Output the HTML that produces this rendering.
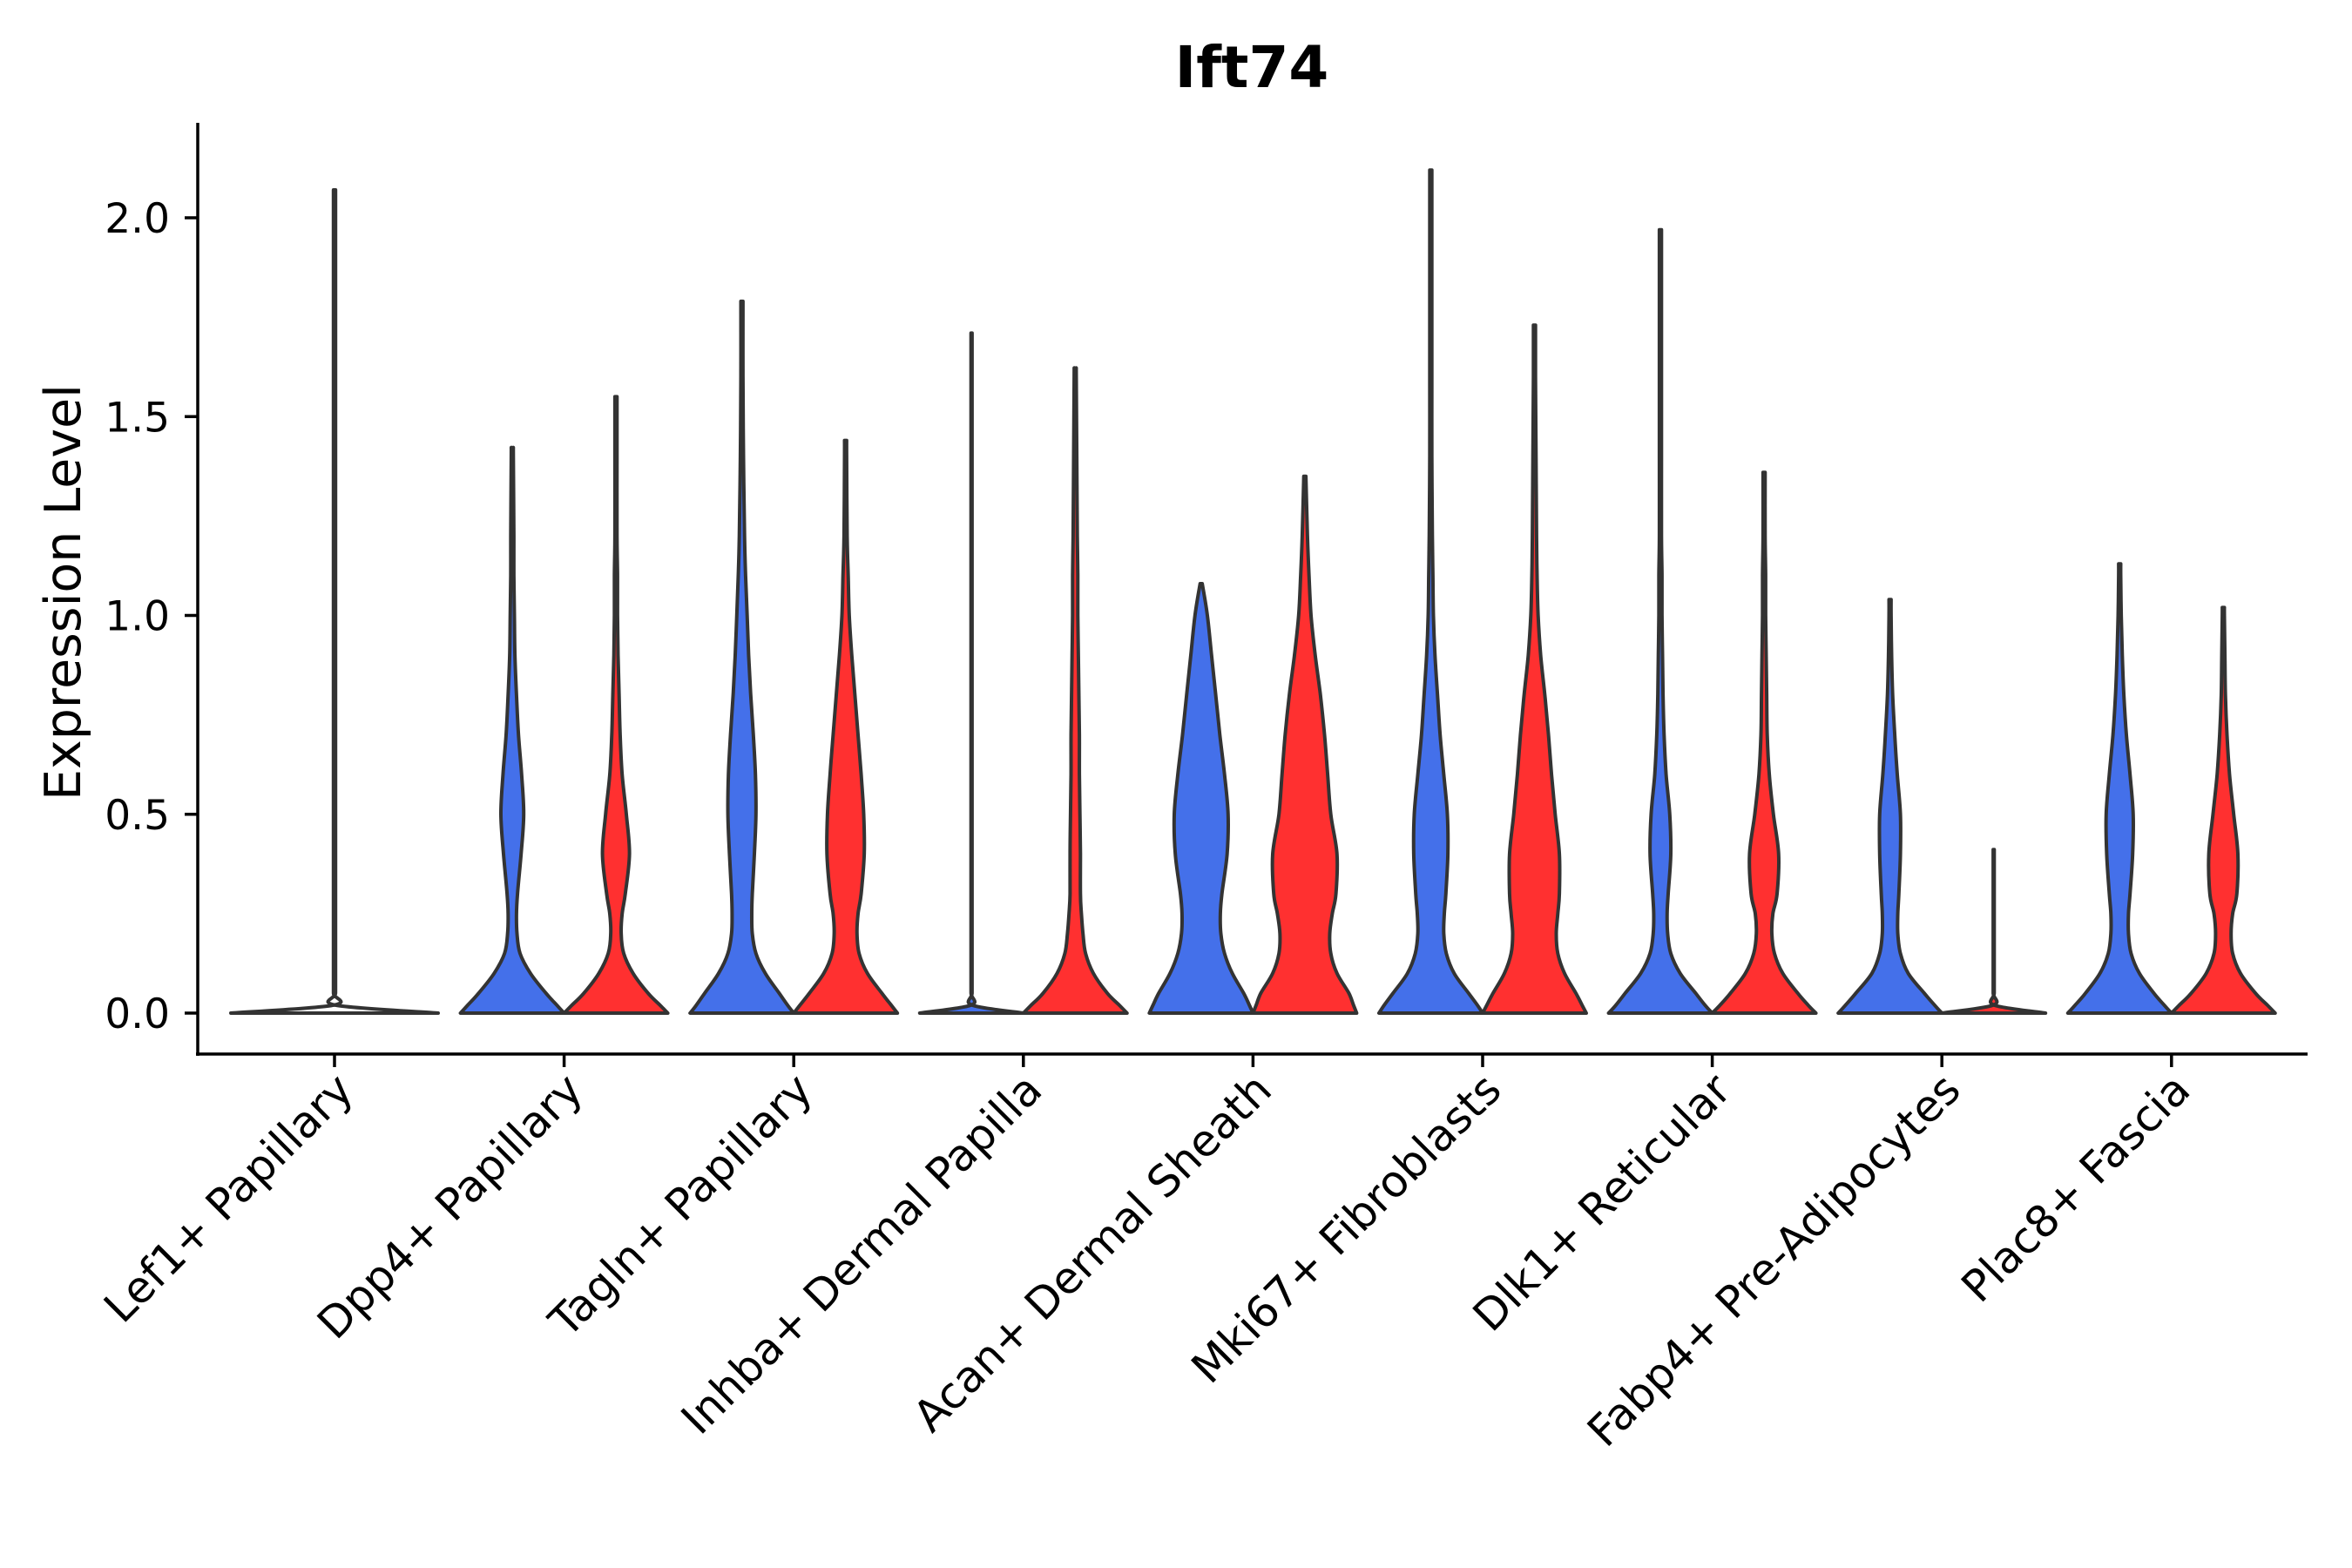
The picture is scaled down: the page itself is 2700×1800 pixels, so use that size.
<!DOCTYPE html>
<html><head><meta charset="utf-8"><style>
html,body{margin:0;padding:0;background:#fff;}
svg{display:block;font-family:"DejaVu Sans","Liberation Sans",sans-serif;}
</style></head><body>
<svg id="chart" width="2700" height="1800" viewBox="0 0 2700 1800" xmlns="http://www.w3.org/2000/svg">
<text x="1437" y="100" text-anchor="middle" font-size="66" font-weight="bold">Ift74</text>
<text transform="translate(92,680) rotate(-90)" text-anchor="middle" font-size="57">Expression Level</text>
<g id="violins"></g>
<line x1="227" y1="141" x2="227" y2="1212" stroke="#000" stroke-width="3.5"/>
<line x1="225" y1="1210" x2="2649" y2="1210" stroke="#000" stroke-width="3.5"/>
<g id="yticks"></g>
<g id="xticks"></g>
</svg>
<script>
const categories = ["Lef1+ Papillary","Dpp4+ Papillary","Tagln+ Papillary","Inhba+ Dermal Papilla","Acan+ Dermal Sheath","Mki67+ Fibroblasts","Dlk1+ Reticular","Fabp4+ Pre-Adipocytes","Plac8+ Fascia"];
const yTicks = [0, 0.5, 1.0, 1.5, 2.0];
const yTickLabels = ["0.0","0.5","1.0","1.5","2.0"];
const gridY = [0,0.02,0.05,0.1,0.15,0.2,0.25,0.3,0.4,0.5,0.6,0.7,0.8,0.9,1.0,1.1,1.2,1.4,1.6,1.8,2.0,2.2];
const blueMax = [2.07,1.42,1.79,1.71,1.08,2.12,1.97,1.04,1.13];
const redMax  = [0,1.55,1.44,1.62,1.35,1.73,1.36,0.41,1.02];
const blueWidths = [
 [1,0.01,0.01,0.01,0.01,0.01,0.01,0.01,0.01,0.01,0.01,0.01,0.01,0.01,0.01,0.01,0.01,0.01,0.01,0.01,0.01,0.01],
 [1,0.86,0.65,0.35,0.15,0.09,0.08,0.10,0.17,0.22,0.18,0.12,0.08,0.05,0.04,0.03,0.03,0.02,0.02,0.02,0.02,0.02],
 [1,0.88,0.72,0.45,0.27,0.2,0.19,0.2,0.24,0.27,0.26,0.22,0.17,0.13,0.1,0.07,0.05,0.03,0.02,0.02,0.02,0.02],
 [1,0.01,0.01,0.01,0.01,0.01,0.01,0.01,0.01,0.01,0.01,0.01,0.01,0.01,0.01,0.01,0.01,0.01,0.01,0.01,0.01,0.01],
 [1,0.93,0.82,0.6,0.45,0.38,0.37,0.4,0.5,0.52,0.45,0.36,0.28,0.2,0.12,0.05,0.05,0.05,0.05,0.05,0.05,0.05],
 [1,0.9,0.73,0.45,0.3,0.25,0.26,0.29,0.33,0.32,0.25,0.18,0.13,0.08,0.05,0.04,0.03,0.02,0.02,0.02,0.02,0.02],
 [1,0.86,0.68,0.38,0.2,0.14,0.13,0.15,0.2,0.18,0.11,0.07,0.05,0.04,0.03,0.03,0.02,0.02,0.02,0.02,0.02,0.02],
 [1,0.86,0.66,0.35,0.2,0.15,0.15,0.17,0.2,0.2,0.14,0.09,0.05,0.03,0.02,0.02,0.02,0.02,0.02,0.02,0.02,0.02],
 [1,0.86,0.66,0.38,0.22,0.17,0.17,0.2,0.25,0.26,0.2,0.13,0.08,0.05,0.03,0.02,0.02,0.02,0.02,0.02,0.02,0.02]
];
const redWidths = [
 [0,0,0,0,0,0,0,0,0,0,0,0,0,0,0,0,0,0,0,0,0,0],
 [1,0.85,0.62,0.33,0.15,0.1,0.12,0.18,0.26,0.2,0.12,0.08,0.06,0.04,0.03,0.03,0.02,0.02,0.02,0.02,0.02,0.02],
 [1,0.88,0.7,0.42,0.26,0.22,0.24,0.3,0.36,0.35,0.3,0.24,0.18,0.12,0.07,0.05,0.03,0.02,0.02,0.02,0.02,0.02],
 [1,0.85,0.62,0.35,0.2,0.15,0.12,0.1,0.1,0.09,0.08,0.08,0.07,0.06,0.05,0.05,0.04,0.03,0.02,0.02,0.02,0.02],
 [1,0.94,0.85,0.62,0.5,0.48,0.53,0.6,0.62,0.5,0.44,0.38,0.3,0.2,0.12,0.08,0.05,0.03,0.03,0.03,0.03,0.03],
 [1,0.92,0.8,0.58,0.45,0.42,0.45,0.48,0.48,0.4,0.33,0.27,0.2,0.12,0.07,0.05,0.04,0.03,0.02,0.02,0.02,0.02],
 [1,0.85,0.65,0.36,0.2,0.15,0.17,0.25,0.28,0.18,0.1,0.06,0.05,0.04,0.03,0.03,0.02,0.02,0.02,0.02,0.02,0.02],
 [1,0.01,0.01,0.01,0.01,0.01,0.01,0.01,0.01,0.01,0.01,0.01,0.01,0.01,0.01,0.01,0.01,0.01,0.01,0.01,0.01,0.01],
 [1,0.85,0.62,0.33,0.18,0.15,0.18,0.26,0.28,0.2,0.12,0.07,0.04,0.03,0.02,0.02,0.02,0.02,0.02,0.02,0.02,0.02]
];

const NS = "http://www.w3.org/2000/svg";
const Y0 = 1163, YPER = 456.5;
function yScale(v){ return Y0 - v*YPER; }
function xScale(i){ return 384 + i*263.6; }
const HALF = 59.5;

function violinPath(cx, hw, widths, maxV){
  const pts = [];
  for (let k=0;k<gridY.length;k++){
    if (gridY[k] >= maxV) break;
    pts.push([gridY[k], widths[k]]);
  }
  pts.push([maxV, Math.min(0.02, pts[pts.length-1][1])]);
  const right = pts.map(p=>[cx + p[1]*hw, yScale(p[0])]);
  const left = pts.map(p=>[cx - p[1]*hw, yScale(p[0])]).reverse();
  function cr(arr){
    let d = "";
    for (let i=0;i<arr.length-1;i++){
      const p0 = arr[Math.max(0,i-1)], p1 = arr[i], p2 = arr[i+1], p3 = arr[Math.min(arr.length-1,i+2)];
      const c1 = [p1[0]+(p2[0]-p0[0])/6, p1[1]+(p2[1]-p0[1])/6];
      const c2 = [p2[0]-(p3[0]-p1[0])/6, p2[1]-(p3[1]-p1[1])/6];
      d += ` C${c1[0].toFixed(1)},${c1[1].toFixed(1)} ${c2[0].toFixed(1)},${c2[1].toFixed(1)} ${p2[0].toFixed(1)},${p2[1].toFixed(1)}`;
    }
    return d;
  }
  return `M${left[left.length-1][0].toFixed(1)},${left[left.length-1][1].toFixed(1)} L${right[0][0].toFixed(1)},${right[0][1].toFixed(1)}` + cr(right) + ` L${left[0][0].toFixed(1)},${left[0][1].toFixed(1)}` + cr(left) + " Z";
}

const gv = document.getElementById("violins");
categories.forEach((c,i)=>{
  const cx = xScale(i);
  if (redMax[i] === 0){
    const p = document.createElementNS(NS,"path");
    p.setAttribute("d", violinPath(cx, HALF*2, blueWidths[i], blueMax[i]));
    p.setAttribute("fill","#fff"); p.setAttribute("stroke","#333"); p.setAttribute("stroke-width","4"); p.setAttribute("stroke-linejoin","round");
    
    
    gv.appendChild(p);
    return;
  }
  const b = document.createElementNS(NS,"path");
  b.setAttribute("d", violinPath(cx - HALF, HALF, blueWidths[i], blueMax[i]));
  b.setAttribute("fill","#4470EA"); b.setAttribute("stroke","#333"); b.setAttribute("stroke-width","4"); b.setAttribute("stroke-linejoin","round");
  
  
  gv.appendChild(b);
  const r = document.createElementNS(NS,"path");
  r.setAttribute("d", violinPath(cx + HALF, HALF, redWidths[i], redMax[i]));
  r.setAttribute("fill","#FF3030"); r.setAttribute("stroke","#333"); r.setAttribute("stroke-width","4"); r.setAttribute("stroke-linejoin","round");
  
  
  gv.appendChild(r);
});

const gy = document.getElementById("yticks");
yTicks.forEach((v,k)=>{
  const y = yScale(v);
  const l = document.createElementNS(NS,"line");
  l.setAttribute("x1",212); l.setAttribute("x2",227); l.setAttribute("y1",y); l.setAttribute("y2",y);
  l.setAttribute("stroke","#000"); l.setAttribute("stroke-width","3.5");
  
  
  gy.appendChild(l);
  const t = document.createElementNS(NS,"text");
  t.setAttribute("x",195); t.setAttribute("y",y+17); t.setAttribute("text-anchor","end"); t.setAttribute("font-size","47");
  t.textContent = yTickLabels[k];
  
  
  gy.appendChild(t);
});
const gx = document.getElementById("xticks");
categories.forEach((c,i)=>{
  const x = xScale(i);
  const l = document.createElementNS(NS,"line");
  l.setAttribute("x1",x); l.setAttribute("x2",x); l.setAttribute("y1",1210); l.setAttribute("y2",1225);
  l.setAttribute("stroke","#000"); l.setAttribute("stroke-width","3.5");
  
  
  gx.appendChild(l);
  const t = document.createElementNS(NS,"text");
  t.setAttribute("transform",`translate(${x+24},1254) rotate(-45)`);
  t.setAttribute("text-anchor","end"); t.setAttribute("font-size","50");
  t.textContent = c;
  
  
  gx.appendChild(t);
});
</script>
</body></html>
